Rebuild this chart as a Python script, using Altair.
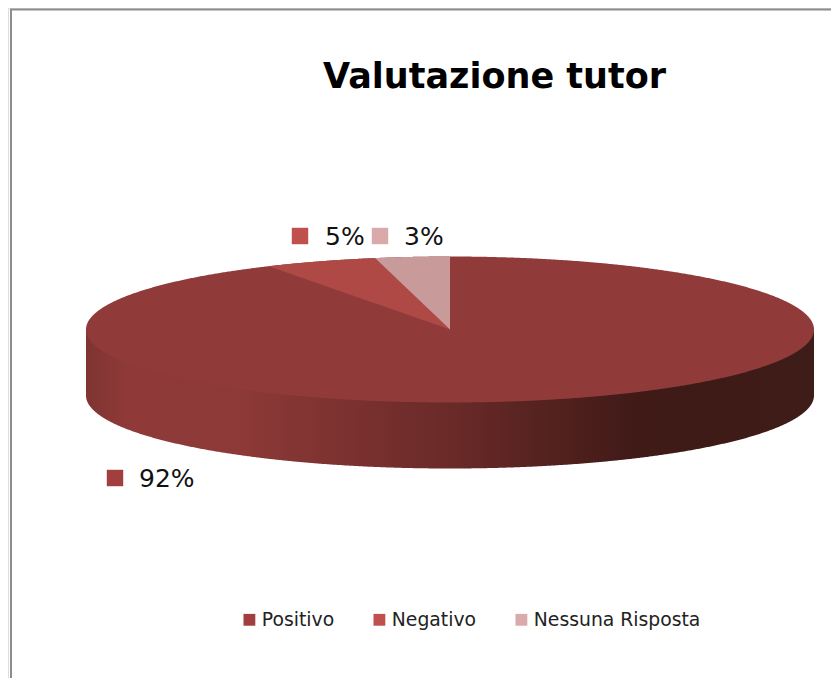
import altair as alt
import numpy as np
import pandas as pd

categories = ["Positivo", "Negativo", "Nessuna Risposta"]
shares = [91.7, 5.0, 3.3]
title_text = "Valutazione tutor"

W, H = 823, 670
CX, CY, RX, RY = 442.0, 321.5, 364.0, 73.0
DEPTH = 66.0 / RY

x_scale = alt.Scale(domain=[-CX / RX, (W - CX) / RX], nice=False, zero=False)
y_scale = alt.Scale(domain=[(CY - H) / RY, CY / RY], nice=False, zero=False)


def enc():
    return dict(
        x=alt.X("x:Q", scale=x_scale, axis=None),
        y=alt.Y("y:Q", scale=y_scale, axis=None),
        y2=alt.Y2("y2:Q"),
    )


def ellipse_y(x):
    return np.sqrt(np.clip(1 - x ** 2, 0, 1))


grid = np.sin(np.linspace(-np.pi / 2, np.pi / 2, 721))

# side wall (runs up behind the top face so no seam shows)
side_df = pd.DataFrame({"x": grid, "y": np.zeros_like(grid), "y2": -ellipse_y(grid) - DEPTH})
side = alt.Chart(side_df).mark_area(
    color=alt.Gradient(
        gradient="linear", x1=0, x2=1, y1=0, y2=0,
        stops=[
            alt.GradientStop(offset=0.0, color="#7f3432"),
            alt.GradientStop(offset=0.06, color="#8f3a38"),
            alt.GradientStop(offset=0.22, color="#8c3937"),
            alt.GradientStop(offset=0.5, color="#6a2a28"),
            alt.GradientStop(offset=0.76, color="#3f1a17"),
            alt.GradientStop(offset=1.0, color="#3e1c18"),
        ],
    )
).encode(**enc())

# top face: full disc, then the small slices over it
disc_df = pd.DataFrame({"x": grid, "y": ellipse_y(grid), "y2": -ellipse_y(grid)})
disc = alt.Chart(disc_df).mark_area(color="#903b39").encode(**enc())

fractions = np.cumsum(shares) / sum(shares)
angles = 2 * np.pi * (fractions - 1)  # clockwise from 12 o'clock, negative = left of top


def slice_df(a_left, a_right):
    xs = np.sin(np.linspace(a_left, a_right, 120))
    xs = np.unique(np.concatenate([xs, [np.sin(a_right), 0.0]]))
    xs = xs[xs >= np.sin(a_left)]
    upper = ellipse_y(xs)
    if abs(a_right) > 1e-9:
        upper = np.minimum(upper, xs / np.tan(a_right))
    lower = xs / np.tan(a_left)
    return pd.DataFrame({"x": xs, "y": upper, "y2": lower})


neg = alt.Chart(slice_df(angles[0], angles[1])).mark_area(color="#af4946").encode(**enc())
none = alt.Chart(slice_df(angles[1], angles[2])).mark_area(color="#c89b9a").encode(**enc())

# data labels and legend
key_scale = alt.Scale(domain=categories, range=["#a03f3d", "#c0504d", "#d9aaa9"])
key_legend = alt.Legend(
    title=None, orient="none", legendX=232, legendY=602, direction="horizontal", columns=3,
    symbolType="square", symbolSize=140, symbolStrokeWidth=0, symbolOpacity=1,
    labelFont="DejaVu Sans", labelFontSize=18.8, labelColor="#222222", labelOffset=3,
    columnPadding=35, labelLimit=300,
)


def data_label(i, key_x, label_x, y):
    df = pd.DataFrame({"cat": [categories[i]], "label": [f"{round(shares[i])}%"]})
    key = alt.Chart(df).mark_square(size=270, opacity=1).encode(
        x=alt.value(key_x), y=alt.value(y),
        color=alt.Color("cat:N", scale=key_scale, legend=key_legend),
    )
    text = alt.Chart(df).mark_text(
        align="left", baseline="middle", font="DejaVu Sans", fontSize=25, color="#111111"
    ).encode(x=alt.value(label_x), y=alt.value(y + 1), text="label:N")
    return key + text


frame_df = pd.DataFrame({"a": [0]})
frame_top = alt.Chart(frame_df).mark_rule(color="#8c8c8c", strokeWidth=2).encode(
    x=alt.value(2), x2=alt.value(W), y=alt.value(1.5))
frame_left = alt.Chart(frame_df).mark_rule(color="#8c8c8c", strokeWidth=2).encode(
    x=alt.value(3), y=alt.value(1), y2=alt.value(H))

chart = alt.layer(
    frame_top, frame_left, side, disc, neg, none,
    data_label(0, 107, 131, 470),
    data_label(1, 292, 317, 228),
    data_label(2, 372, 396, 228),
).properties(
    width=W, height=H, padding=0,
    autosize=alt.AutoSizeParams(type="none"),
    title=alt.TitleParams(
        text=title_text, anchor="start", align="left", baseline="alphabetic",
        font="DejaVu Sans", fontSize=35, fontWeight="bold", color="#000000",
        dx=315, dy=115, offset=0,
    ),
).configure_view(stroke=None).configure(background="white")

chart.save("out.html", embed_options={"renderer": "svg", "actions": False})
